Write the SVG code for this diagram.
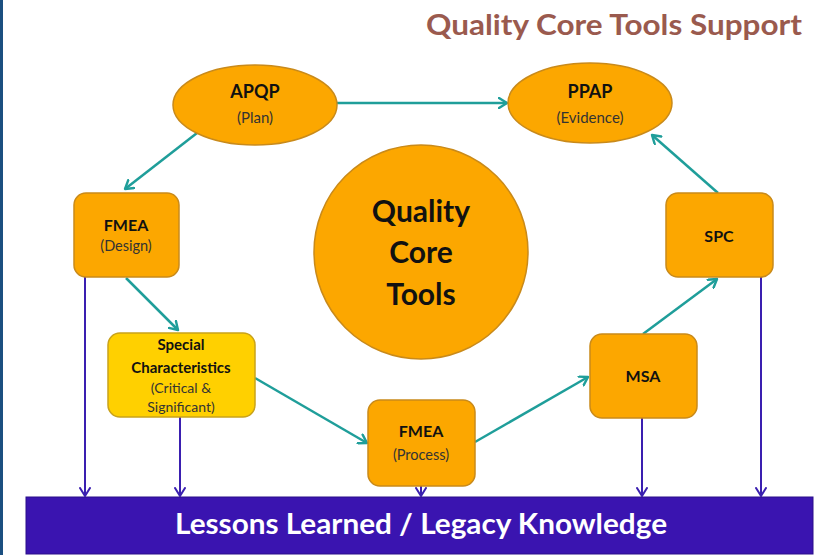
<svg xmlns="http://www.w3.org/2000/svg" width="821" height="555" viewBox="0 0 821 555">
<defs>
<marker id="ahT" markerWidth="12" markerHeight="12" refX="9" refY="6" orient="auto" markerUnits="userSpaceOnUse" viewBox="0 0 12 12">
<polyline points="1,1 9,6 1,11" fill="none" stroke="#1f9e9a" stroke-width="2.4" stroke-linecap="round" stroke-linejoin="round"/>
</marker>
<marker id="ahP" markerWidth="12" markerHeight="12" refX="9" refY="6" orient="auto" markerUnits="userSpaceOnUse" viewBox="0 0 12 12">
<polyline points="1,1 9,6 1,11" fill="none" stroke="#3a1fb0" stroke-width="2" stroke-linecap="round" stroke-linejoin="round"/>
</marker>
</defs>
<style>
.n{fill:#fca700;stroke:#c98a1a;stroke-width:1.5}
.y{fill:#ffd000;stroke:#c9a21a;stroke-width:1.5}
.b{font-family:Lato,"Open Sans",sans-serif;font-weight:bold;fill:#111;text-anchor:middle}
.r{font-family:Lato,"Open Sans",sans-serif;fill:#333;text-anchor:middle}
.t{stroke:#1f9e9a;stroke-width:2.5;fill:none;marker-end:url(#ahT)}
.p{stroke:#3a1fb0;stroke-width:2;fill:none;marker-end:url(#ahP)}
</style>
<rect x="0" y="0" width="821" height="555" fill="#ffffff"/>
<rect x="0" y="0" width="3" height="555" fill="#1b4f80"/>
<text x="802" y="35" font-family="Lato,'Open Sans',sans-serif" font-weight="bold" font-size="29" fill="#9a5a4e" text-anchor="end" textLength="376" lengthAdjust="spacingAndGlyphs">Quality Core Tools Support</text>

<g id="connectors">
<line class="t" x1="337" y1="103" x2="507" y2="103"/>
<line class="t" x1="197" y1="133" x2="125" y2="189"/>
<line class="t" x1="126" y1="278" x2="178" y2="330"/>
<line class="t" x1="255" y1="378" x2="367" y2="443"/>
<line class="t" x1="475" y1="442" x2="588" y2="377"/>
<line class="t" x1="643" y1="334" x2="717" y2="279"/>
<line class="t" x1="718" y1="193" x2="652" y2="135"/>
<line class="p" x1="85" y1="277" x2="85" y2="496"/>
<line class="p" x1="180" y1="417" x2="180" y2="496"/>
<line class="p" x1="421" y1="486" x2="421" y2="496"/>
<line class="p" x1="642" y1="418" x2="642" y2="496"/>
<line class="p" x1="761" y1="277" x2="761" y2="496"/>
</g>

<g id="apqp">
<ellipse class="n" cx="255" cy="105" rx="82" ry="40"/>
<text class="b" x="255" y="98" font-size="18">APQP</text>
<text class="r" x="255" y="123" font-size="15">(Plan)</text>
</g>
<g id="ppap">
<ellipse class="n" cx="590" cy="103" rx="82" ry="40"/>
<text class="b" x="590" y="98" font-size="18">PPAP</text>
<text class="r" x="590" y="123" font-size="15">(Evidence)</text>
</g>
<g id="core">
<circle class="n" cx="421" cy="252" r="107"/>
<text class="b" x="421" y="222" font-size="30">Quality</text>
<text class="b" x="421" y="263" font-size="30">Core</text>
<text class="b" x="421" y="305" font-size="30">Tools</text>
</g>
<g id="fmea-design">
<rect class="n" x="74" y="193" width="105" height="84" rx="12"/>
<text class="b" x="126" y="231" font-size="16">FMEA</text>
<text class="r" x="126" y="251" font-size="14.5">(Design)</text>
</g>
<g id="special">
<rect class="y" x="108" y="333" width="147" height="84" rx="12"/>
<text class="b" x="181" y="350" font-size="15">Special</text>
<text class="b" x="181" y="373" font-size="15">Characteristics</text>
<text class="r" x="181" y="393" font-size="14">(Critical &amp;</text>
<text class="r" x="181" y="412" font-size="14">Significant)</text>
</g>
<g id="fmea-process">
<rect class="n" x="368" y="400" width="107" height="86" rx="12"/>
<text class="b" x="421" y="437" font-size="16">FMEA</text>
<text class="r" x="421" y="460" font-size="14.5">(Process)</text>
</g>
<g id="msa">
<rect class="n" x="590" y="334" width="107" height="84" rx="12"/>
<text class="b" x="643" y="382" font-size="16">MSA</text>
</g>
<g id="spc">
<rect class="n" x="666" y="193" width="107" height="84" rx="12"/>
<text class="b" x="719" y="242" font-size="16">SPC</text>
</g>
<g id="lessons">
<rect x="26" y="497" width="787" height="57" fill="#3a14b0" stroke="#2a0e8a" stroke-width="1"/>
<text x="421" y="534" font-family="Lato,'Open Sans',sans-serif" font-weight="bold" font-size="29" fill="#ffffff" text-anchor="middle" textLength="492" lengthAdjust="spacingAndGlyphs">Lessons Learned / Legacy Knowledge</text>
</g>
</svg>
